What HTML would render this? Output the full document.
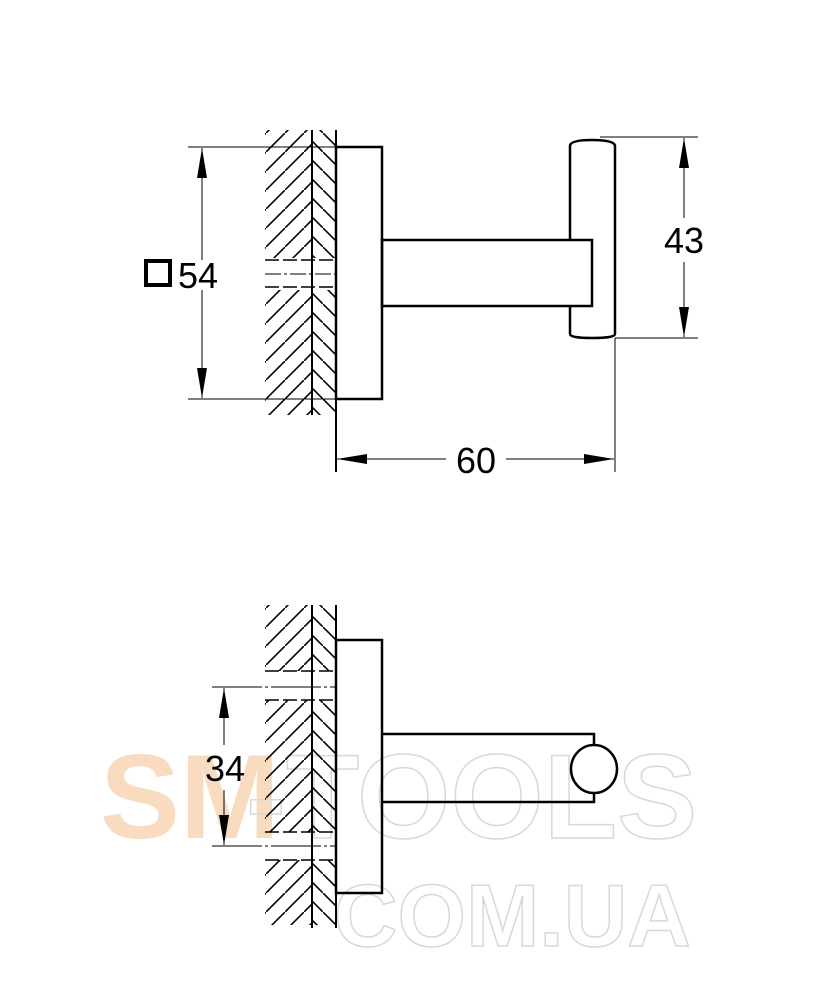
<!DOCTYPE html>
<html><head><meta charset="utf-8"><style>
html,body{margin:0;padding:0;background:#fff}
svg{display:block}
text{font-family:"Liberation Sans",sans-serif}
</style></head><body>
<svg width="834" height="1000" viewBox="0 0 834 1000" xmlns="http://www.w3.org/2000/svg">
<defs>
<pattern id="hf" patternUnits="userSpaceOnUse" width="19" height="19"><line x1="-1" y1="20" x2="20" y2="-1" stroke="#000" stroke-width="1.6"/></pattern>
<pattern id="hb" patternUnits="userSpaceOnUse" width="19" height="19"><line x1="-1" y1="-1" x2="20" y2="20" stroke="#000" stroke-width="1.6"/></pattern>
<marker id="ar" viewBox="0 0 30 10" refX="30" refY="5" markerWidth="30" markerHeight="10" markerUnits="userSpaceOnUse" orient="auto"><path d="M0,0 L30,5 L0,10 z"/></marker>
</defs>

<!-- watermark -->
<text x="100" y="838" font-size="120" font-weight="bold" fill="#f9dcc0">SM</text>
<text x="246" y="838" font-size="120" font-weight="bold" fill="none" stroke="#d8d8d8" stroke-width="1.5">-TOOLS</text>
<text x="334" y="946" font-size="88" font-weight="bold" fill="none" stroke="#d8d8d8" stroke-width="1.5">COM.UA</text>

<g stroke="#000" fill="none">
<rect x="265" y="130" width="47" height="128" fill="url(#hf)" stroke="none"/>
<rect x="265" y="290" width="47" height="125" fill="url(#hf)" stroke="none"/>
<rect x="312" y="130" width="24" height="128" fill="url(#hb)" stroke="none"/>
<rect x="312" y="290" width="24" height="125" fill="url(#hb)" stroke="none"/>
<line x1="312" y1="130" x2="312" y2="415" stroke-width="2"/>
<line x1="336" y1="130" x2="336" y2="472" stroke-width="2"/>
<line x1="265" y1="260" x2="336" y2="260" stroke-width="1.5" stroke-dasharray="14,4"/>
<line x1="265" y1="274" x2="336" y2="274" stroke-width="1" stroke-dasharray="16,3,3,3"/>
<line x1="265" y1="287" x2="336" y2="287" stroke-width="1.5" stroke-dasharray="14,4"/>
<rect x="336" y="147" width="46" height="252" stroke-width="2.5"/>
<rect x="382" y="240" width="210" height="66" stroke-width="2.5"/>
<path d="M570,240 V146 Q570,140 592,140 Q615,140 615,146 V334 Q615,338 592,338 Q570,338 570,334 V306" stroke-width="2.5"/>
<line x1="188" y1="147" x2="336" y2="147" stroke-width="1"/>
<line x1="188" y1="399" x2="336" y2="399" stroke-width="1"/>
<line x1="202" y1="260" x2="202" y2="148" stroke-width="1" marker-end="url(#ar)"/>
<line x1="202" y1="290" x2="202" y2="398" stroke-width="1" marker-end="url(#ar)"/>
<line x1="600" y1="137" x2="698" y2="137" stroke-width="1"/>
<line x1="615" y1="338" x2="698" y2="338" stroke-width="1"/>
<line x1="684" y1="218" x2="684" y2="138" stroke-width="1" marker-end="url(#ar)"/>
<line x1="684" y1="262" x2="684" y2="337" stroke-width="1" marker-end="url(#ar)"/>
<line x1="615" y1="338" x2="615" y2="472" stroke-width="1"/>
<line x1="446" y1="459" x2="337" y2="459" stroke-width="1" marker-end="url(#ar)"/>
<line x1="506" y1="459" x2="614" y2="459" stroke-width="1" marker-end="url(#ar)"/>
<rect x="146" y="261" width="24" height="24" stroke-width="4"/>

<rect x="265" y="605" width="47" height="66" fill="url(#hf)" stroke="none"/>
<rect x="265" y="700" width="47" height="132" fill="url(#hf)" stroke="none"/>
<rect x="265" y="860" width="47" height="65" fill="url(#hf)" stroke="none"/>
<rect x="312" y="605" width="24" height="66" fill="url(#hb)" stroke="none"/>
<rect x="312" y="700" width="24" height="132" fill="url(#hb)" stroke="none"/>
<rect x="312" y="860" width="24" height="65" fill="url(#hb)" stroke="none"/>
<line x1="312" y1="605" x2="312" y2="928" stroke-width="2"/>
<line x1="336" y1="605" x2="336" y2="928" stroke-width="2"/>
<line x1="265" y1="671" x2="336" y2="671" stroke-width="1.5" stroke-dasharray="14,4"/>
<line x1="265" y1="700" x2="336" y2="700" stroke-width="1.5" stroke-dasharray="14,4"/>
<line x1="265" y1="832" x2="336" y2="832" stroke-width="1.5" stroke-dasharray="14,4"/>
<line x1="265" y1="860" x2="336" y2="860" stroke-width="1.5" stroke-dasharray="14,4"/>
<line x1="212" y1="687" x2="336" y2="687" stroke-width="1" stroke-dasharray="50,3,3,3"/>
<line x1="212" y1="846" x2="336" y2="846" stroke-width="1" stroke-dasharray="50,3,3,3"/>
<rect x="336" y="640" width="46" height="253" stroke-width="2.5"/>
<path d="M382,734 H594 V745 M594,793 V802 H382" stroke-width="2.5"/>
<ellipse cx="594" cy="769" rx="23" ry="24" stroke-width="2.5"/>
<line x1="224" y1="745" x2="224" y2="688" stroke-width="1" marker-end="url(#ar)"/>
<line x1="224" y1="790" x2="224" y2="845" stroke-width="1" marker-end="url(#ar)"/>
</g>
<text x="178" y="288" font-size="36">54</text>
<text x="684" y="253" font-size="36" text-anchor="middle">43</text>
<text x="476" y="473" font-size="36" text-anchor="middle">60</text>
<text x="225" y="781" font-size="36" text-anchor="middle">34</text>
</svg>
</body></html>
